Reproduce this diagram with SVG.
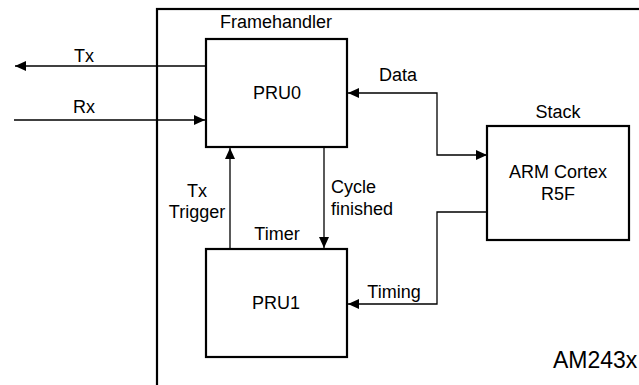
<svg xmlns="http://www.w3.org/2000/svg" width="639" height="385" viewBox="0 0 639 385">
<style>
text{font-family:"Liberation Sans",Arial,sans-serif;font-size:18px;fill:#000}
.box{fill:#fff;stroke:#000;stroke-width:2.2}
.c{fill:none;stroke:#000;stroke-width:1.3}
</style>
<defs>
<marker id="ah" markerUnits="userSpaceOnUse" markerWidth="12" markerHeight="11" refX="11" refY="5" orient="auto-start-reverse" viewBox="0 0 12 10">
<path d="M0,0 L11,5 L0,10 z" fill="#000"/>
</marker>
</defs>
<rect width="639" height="385" fill="#fff"/>
<g id="device">
<rect x="157" y="9" width="520" height="420" fill="none" stroke="#000" stroke-width="2.2"/>
<text x="553" y="368" style="font-size:23px">AM243x</text>
</g>
<g id="connectors">
<path class="c" d="M206,66 H15" marker-end="url(#ah)"/>
<text x="84" y="62" text-anchor="middle">Tx</text>
<path class="c" d="M14,120 H205" marker-end="url(#ah)"/>
<text x="84" y="113" text-anchor="middle">Rx</text>
<path class="c" d="M348,93 H437 V155 H487" marker-start="url(#ah)" marker-end="url(#ah)"/>
<text x="398" y="81" text-anchor="middle">Data</text>
<path class="c" d="M230,249 V148" marker-end="url(#ah)"/>
<text x="197" y="197" text-anchor="middle">Tx</text>
<text x="197" y="218" text-anchor="middle">Trigger</text>
<path class="c" d="M324,148 V248" marker-end="url(#ah)"/>
<text x="331" y="193">Cycle</text>
<text x="331" y="215">finished</text>
<path class="c" d="M487,212 H437 V304 H348" marker-end="url(#ah)"/>
<text x="394" y="298" text-anchor="middle">Timing</text>
</g>
<g id="pru0">
<rect class="box" x="206" y="39" width="141" height="108"/>
<text x="276" y="28" text-anchor="middle">Framehandler</text>
<text x="277" y="99" text-anchor="middle">PRU0</text>
</g>
<g id="pru1">
<rect class="box" x="206" y="249" width="141" height="108"/>
<text x="277" y="240" text-anchor="middle">Timer</text>
<text x="276" y="309" text-anchor="middle">PRU1</text>
</g>
<g id="arm">
<rect class="box" x="487" y="126" width="142" height="114"/>
<text x="558" y="118" text-anchor="middle">Stack</text>
<text x="558" y="178" text-anchor="middle">ARM Cortex</text>
<text x="558" y="200" text-anchor="middle">R5F</text>
</g>
</svg>
